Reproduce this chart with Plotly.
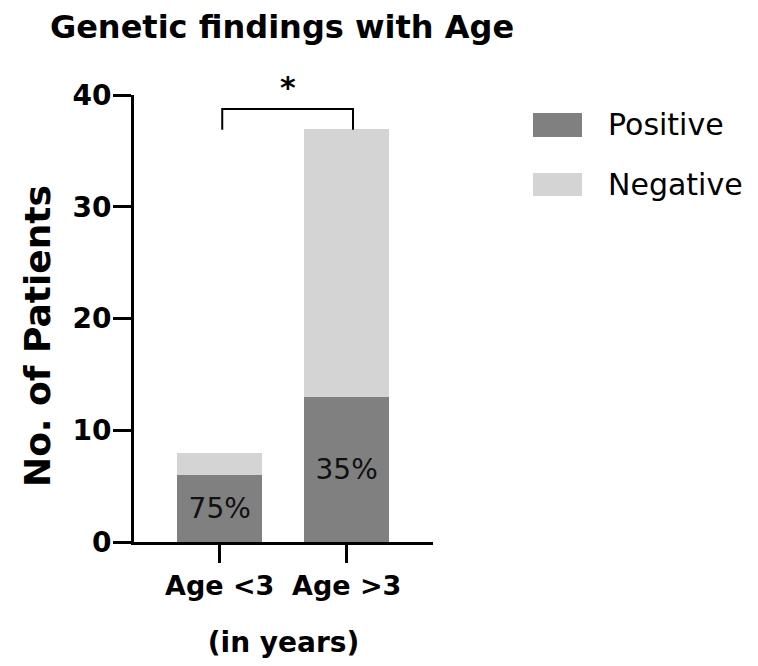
import plotly.graph_objects as go

# ---- data ----
categories = ["Age <3", "Age >3"]
positive = [6, 13]
negative = [2, 24]
series_names = ["Positive", "Negative"]
series_colors = ["#808080", "#d4d4d4"]
y_ticks = [0, 10, 20, 30, 40]
title_text = "Genetic findings with Age"
y_title = "No. of Patients"
x_title = "(in years)"
sig_label = "*"

totals = [p + n for p, n in zip(positive, negative)]
pct_labels = [f"{round(100 * p / t)}%" for p, t in zip(positive, totals)]

FONT = "DejaVu Sans"

# page geometry (pixels); the page body has an 8px margin
OFF = 8
PAGE_W, PAGE_H = 758, 666
W, H = PAGE_W - OFF, PAGE_H - OFF
# plot area in page pixels: x 134..433, y 95..542
L, T = 134 - OFF, 95 - OFF
R = W - (433 - OFF)
B = H - (542 - OFF)
PW, PH = W - L - R, H - T - B


def px_x(px):
    return (px - OFF - L) / PW


def px_y(py):
    return (H - B - (py - OFF)) / PH


fig = go.Figure()
fig.add_trace(go.Bar(
    x=categories, y=positive, name=series_names[0],
    marker=dict(color=series_colors[0], line=dict(width=0)),
    width=0.67,
    text=pct_labels, textposition="inside", insidetextanchor="middle",
    textangle=0,
    insidetextfont=dict(family=FONT, size=28, color="#111111"),
    showlegend=False,
))
fig.add_trace(go.Bar(
    x=categories, y=negative, name=series_names[1],
    marker=dict(color=series_colors[1], line=dict(width=0)),
    width=0.67, showlegend=False,
))

annotations = []
shapes = []

# manual legend with large swatches
legend_rows = [(113, 137, 124), (173, 196, 184.5)]
for (top, bot, mid), name, col in zip(legend_rows, series_names, series_colors):
    shapes.append(dict(type="rect", xref="paper", yref="paper",
                       x0=px_x(533), x1=px_x(582), y0=px_y(bot), y1=px_y(top),
                       fillcolor=col, line=dict(width=0)))
    annotations.append(dict(xref="paper", yref="paper", x=px_x(606), y=px_y(mid),
                            xanchor="left", yanchor="middle", text=name, showarrow=False,
                            font=dict(family=FONT, size=30, color="#000000")))

# significance bracket
top_val = max(totals)
bracket_y = top_val + 1.75
leg_y = top_val - 0.1
shapes.append(dict(type="path", xref="x", yref="y",
                   path=f"M 0.02,{leg_y} L 0.02,{bracket_y} L 1.05,{bracket_y} L 1.05,{leg_y}",
                   line=dict(color="#000000", width=2)))
annotations.append(dict(xref="x", yref="y", x=0.535, y=bracket_y + 0.15, xanchor="center",
                        yanchor="bottom", text=sig_label, showarrow=False,
                        font=dict(family=FONT, size=30, color="#000000", weight="bold")))

# y axis title
annotations.append(dict(xref="paper", yref="paper", x=px_x(37), y=px_y(336),
                        xanchor="center", yanchor="middle", text=y_title, textangle=-90,
                        showarrow=False,
                        font=dict(family=FONT, size=36, color="#000000", weight="bold")))

fig.update_layout(
    width=W, height=H,
    margin=dict(l=L, r=R, t=T, b=B, autoexpand=False),
    barmode="stack",
    plot_bgcolor="white", paper_bgcolor="white",
    title=dict(text=title_text, x=(282 - OFF) / W, xref="container", xanchor="center",
               y=1 - (27 - OFF) / H, yref="container", yanchor="middle",
               font=dict(family=FONT, size=32, color="#000000", weight="bold")),
    showlegend=False,
    shapes=shapes,
    annotations=annotations,
)

fig.update_xaxes(
    range=[-0.675, 1.68],
    showline=True, linecolor="#000000", linewidth=3,
    ticks="outside", ticklen=18, tickwidth=3, tickcolor="#000000",
    tickfont=dict(family=FONT, size=27, color="#000000", weight="bold"),
    showgrid=False, zeroline=False,
    title=dict(text=x_title, standoff=32,
               font=dict(family=FONT, size=28, color="#000000", weight="bold")),
)
fig.update_yaxes(
    range=[0, 40], tickvals=y_ticks,
    showline=True, linecolor="#000000", linewidth=3,
    ticks="outside", ticklen=18, tickwidth=3, tickcolor="#000000",
    tickfont=dict(family=FONT, size=28, color="#000000", weight="bold"),
    ticklabelstandoff=-4,
    showgrid=False, zeroline=False,
)

fig.write_html("out.html")
